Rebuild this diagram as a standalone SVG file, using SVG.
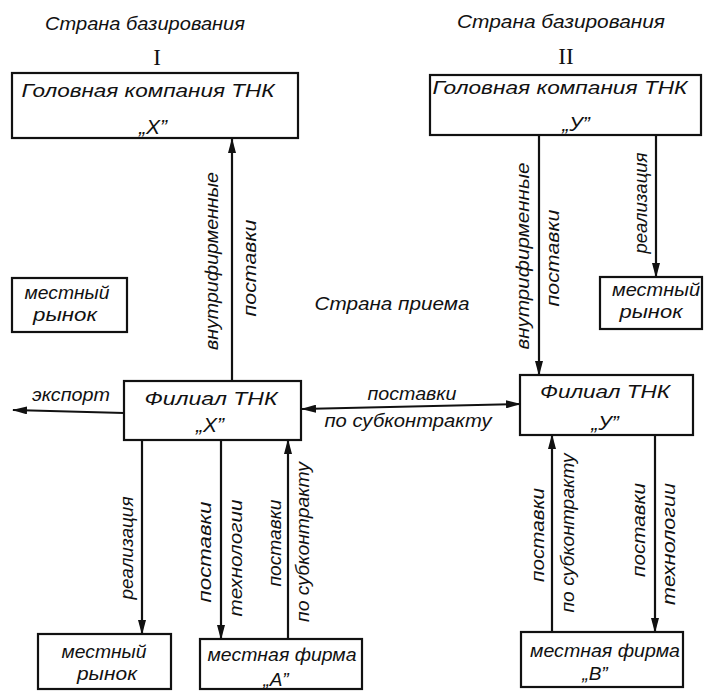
<svg xmlns="http://www.w3.org/2000/svg" width="707" height="691" viewBox="0 0 707 691">
<style>
text{font-family:"Liberation Sans","DejaVu Sans",sans-serif;font-style:italic;font-size:19px;fill:#111;text-anchor:middle}
text.r{font-family:"Liberation Serif",serif;font-style:normal;font-size:23px}
text.q{font-size:21px}
rect{fill:#fff;stroke:#111;stroke-width:2.2}
#connectors line{stroke:#111;stroke-width:2.2;fill:none}
</style>
<defs>
<marker id="ah" viewBox="0 0 15 8" refX="14" refY="4" markerWidth="15" markerHeight="8" markerUnits="userSpaceOnUse" orient="auto-start-reverse">
<path d="M0,0 L15,4 L0,8 z" fill="#111"/>
</marker>
</defs>
<rect x="0" y="0" width="707" height="691" style="stroke:none;fill:#fff"/>

<g id="titles">
<text x="145" y="30" textLength="200" lengthAdjust="spacingAndGlyphs">Страна базирования</text>
<text class="r" x="157" y="65">I</text>
<text x="561" y="28" textLength="208" lengthAdjust="spacingAndGlyphs">Страна базирования</text>
<text class="r" x="566" y="64">II</text>
<text x="392" y="310" textLength="155" lengthAdjust="spacingAndGlyphs">Страна приема</text>
</g>

<g id="head-x">
<rect x="12" y="73" width="286" height="65"/>
<text x="148" y="97" textLength="253" lengthAdjust="spacingAndGlyphs">Головная компания  ТНК</text>
<text class="q" x="153" y="134">„X”</text>
</g>

<g id="head-y">
<rect x="430" y="75" width="271" height="60"/>
<text x="560" y="94" textLength="255" lengthAdjust="spacingAndGlyphs">Головная компания  ТНК</text>
<text class="q" x="576" y="131">„У”</text>
</g>

<g id="market-left-top">
<rect x="12" y="278" width="115" height="54"/>
<text x="67" y="299" textLength="85" lengthAdjust="spacingAndGlyphs">местный</text>
<text x="65" y="321" textLength="64" lengthAdjust="spacingAndGlyphs">рынок</text>
</g>

<g id="market-right-top">
<rect x="600" y="277" width="102" height="52"/>
<text x="656" y="296" textLength="88" lengthAdjust="spacingAndGlyphs">местный</text>
<text x="651" y="318" textLength="63" lengthAdjust="spacingAndGlyphs">рынок</text>
</g>

<g id="filial-x">
<rect x="124" y="381" width="177" height="59"/>
<text x="211" y="405" textLength="133" lengthAdjust="spacingAndGlyphs">Филиал  ТНК</text>
<text class="q" x="210" y="432">„X”</text>
</g>

<g id="filial-y">
<rect x="520" y="375" width="173" height="60"/>
<text x="605" y="398" textLength="130" lengthAdjust="spacingAndGlyphs">Филиал  ТНК</text>
<text class="q" x="605" y="430">„У”</text>
</g>

<g id="market-left-bottom">
<rect x="38" y="634" width="133" height="55"/>
<text x="104" y="658" textLength="85" lengthAdjust="spacingAndGlyphs">местный</text>
<text x="107" y="680" textLength="60" lengthAdjust="spacingAndGlyphs">рынок</text>
</g>

<g id="firm-a">
<rect x="200" y="639" width="162" height="50"/>
<text x="282" y="661" textLength="149" lengthAdjust="spacingAndGlyphs">местная фирма</text>
<text x="276" y="686">„А”</text>
</g>

<g id="firm-b">
<rect x="521" y="632" width="162" height="55"/>
<text x="605" y="657" textLength="150" lengthAdjust="spacingAndGlyphs">местная фирма</text>
<text x="595" y="680">„В”</text>
</g>

<g id="connectors">
<line x1="232" y1="381" x2="232" y2="139" marker-end="url(#ah)"/>
<line x1="539" y1="135" x2="539" y2="375" marker-end="url(#ah)"/>
<line x1="656" y1="135" x2="656" y2="277" marker-end="url(#ah)"/>
<line x1="124" y1="413" x2="13" y2="410" marker-end="url(#ah)"/>
<line x1="302" y1="409" x2="520" y2="404" marker-start="url(#ah)" marker-end="url(#ah)"/>
<line x1="142" y1="440" x2="142" y2="634" marker-end="url(#ah)"/>
<line x1="221" y1="440" x2="221" y2="639" marker-end="url(#ah)"/>
<line x1="288" y1="639" x2="288" y2="440" marker-end="url(#ah)"/>
<line x1="552" y1="632" x2="552" y2="435" marker-end="url(#ah)"/>
<line x1="655" y1="435" x2="655" y2="632" marker-end="url(#ah)"/>
</g>

<g id="connector-labels">
<text transform="translate(218,261) rotate(-90)" textLength="178" lengthAdjust="spacingAndGlyphs">внутрифирменные</text>
<text transform="translate(256,268) rotate(-90)" textLength="97" lengthAdjust="spacingAndGlyphs">поставки</text>
<text transform="translate(529,256) rotate(-90)" textLength="187" lengthAdjust="spacingAndGlyphs">внутрифирменные</text>
<text transform="translate(559,258) rotate(-90)" textLength="97" lengthAdjust="spacingAndGlyphs">поставки</text>
<text transform="translate(647,203) rotate(-90)" textLength="101" lengthAdjust="spacingAndGlyphs">реализация</text>
<text x="71" y="401" textLength="78" lengthAdjust="spacingAndGlyphs">экспорт</text>
<text x="412" y="400" textLength="89" lengthAdjust="spacingAndGlyphs">поставки</text>
<text x="408" y="427" textLength="167" lengthAdjust="spacingAndGlyphs">по субконтракту</text>
<text transform="translate(133,548) rotate(-90)" textLength="103" lengthAdjust="spacingAndGlyphs">реализация</text>
<text transform="translate(211,552) rotate(-90)" textLength="101" lengthAdjust="spacingAndGlyphs">поставки</text>
<text transform="translate(242,558) rotate(-90)" textLength="117" lengthAdjust="spacingAndGlyphs">технологии</text>
<text transform="translate(281,543) rotate(-90)" textLength="87" lengthAdjust="spacingAndGlyphs">поставки</text>
<text transform="translate(309,542) rotate(-90)" textLength="160" lengthAdjust="spacingAndGlyphs">по субконтракту</text>
<text transform="translate(544,535) rotate(-90)" textLength="94" lengthAdjust="spacingAndGlyphs">поставки</text>
<text transform="translate(574,533) rotate(-90)" textLength="159" lengthAdjust="spacingAndGlyphs">по субконтракту</text>
<text transform="translate(645,530) rotate(-90)" textLength="94" lengthAdjust="spacingAndGlyphs">поставки</text>
<text transform="translate(675,544) rotate(-90)" textLength="122" lengthAdjust="spacingAndGlyphs">технологии</text>
</g>
</svg>
